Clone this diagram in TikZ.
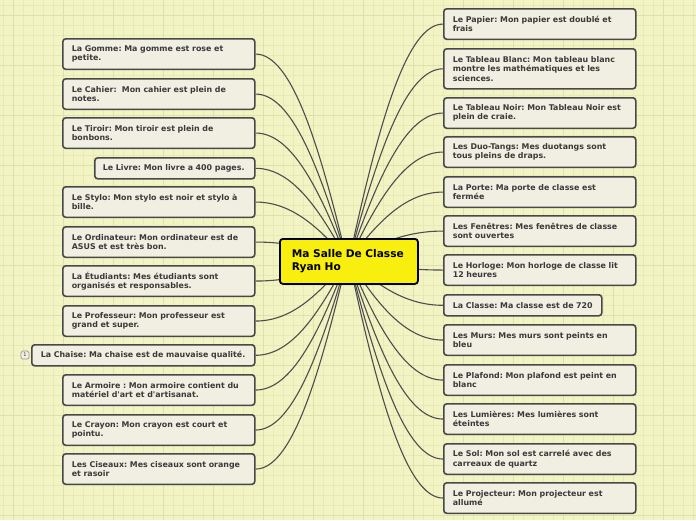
\documentclass[tikz,border=0pt]{standalone}
\usepackage{fontspec}
\newfontfamily\dvs{DejaVu Sans}
\usetikzlibrary{calc}
\definecolor{bgc}{RGB}{242,244,196}
\definecolor{gridminor}{RGB}{231,234,182}
\definecolor{gridmajor}{RGB}{222,225,170}
\definecolor{boxfill}{RGB}{241,239,226}
\definecolor{boxline}{RGB}{72,72,72}
\definecolor{boxtext}{RGB}{58,58,58}
\definecolor{rootfill}{RGB}{248,239,14}
\definecolor{conncol}{RGB}{78,78,78}
\definecolor{iconline}{RGB}{150,150,140}
\pgfdeclarelayer{bg}\pgfdeclarelayer{lines}\pgfsetlayers{bg,lines,main}
\newcommand\linkto[2]{%
  \draw[conn] let \p1=(#1), \p2=(#2) in (\p1) .. controls ({\x1+0.3*(\x2-\x1)},{\y1+0.55*(\y2-\y1)}) and ({\x2-0.4*(\x2-\x1)},\y2) .. (\p2);}
\frenchspacing
\begin{document}
\begin{tikzpicture}[x=1pt,y=-1pt,
  box/.style={draw=boxline, fill=boxfill, line width=1.6pt, rounded corners=3pt,
    font=\dvs\bfseries\fontsize{7.9}{9.4}\selectfont\frenchspacing, text=boxtext, align=left,
    inner xsep=9pt, inner ysep=0pt, anchor=north west, text width=174pt, minimum height=30.5pt},
  one/.style={minimum height=21pt},
  three/.style={minimum height=40pt},
  rootbox/.style={draw=black, fill=rootfill, line width=1.8pt, rounded corners=3pt,
    font=\dvs\bfseries\fontsize{10.6}{13}\selectfont, text=black, align=left,
    inner xsep=12pt, inner ysep=0pt, anchor=north west, text width=114pt, minimum height=45pt},
  conn/.style={draw=conncol, line width=1.1pt},
  gmin/.style={draw=gridminor, line width=0.6pt},
  gmaj/.style={draw=gridmajor, line width=0.8pt},
  iconbox/.style={draw=iconline, fill=boxfill, line width=0.7pt, rounded corners=1.5pt,
    minimum size=8pt, inner sep=0pt, font=\dvs\fontsize{5}{5}\selectfont, text=boxtext}
]
\useasboundingbox (0,0) rectangle (696,520);
\begin{pgfonlayer}{bg}
  \fill[bgc] (0,0) rectangle (696,520);
  \foreach \x in {3,13,...,693} \draw[gmin] (\x,0) -- (\x,520);
  \foreach \y in {5,15,...,515} \draw[gmin] (0,\y) -- (696,\y);
  \foreach \x in {13,63,...,663} \draw[gmaj] (\x,0) -- (\x,520);
  \foreach \y in {15,65,...,515} \draw[gmaj] (0,\y) -- (696,\y);
\end{pgfonlayer}

% root
\node[rootbox] (root) at (279,238) {\mbox{Ma Salle De Classe}\\Ryan Ho};
\coordinate (rl) at (347,260);
\coordinate (rr) at (349,260);

% left
\node[box] (gomme) at (62,38) {La Gomme: Ma gomme est rose et\\petite.};
\node[box] (cahier) at (62,78) {Le Cahier: \ Mon cahier est plein de\\notes.};
\node[box] (tiroir) at (62,117) {Le Tiroir: Mon tiroir est plein de\\bonbons.};
\node[box, one, inner xsep=8pt, text width=144pt] (livre) at (94,157) {\mbox{Le Livre: Mon livre a 400 pages.}};
\node[box] (stylo) at (62,186) {Le Stylo: Mon stylo est noir et stylo à\\bille.};
\node[box] (ordi) at (62,226) {Le Ordinateur: Mon ordinateur est de\\ASUS et est très bon.};
\node[box] (etud) at (62,265) {La Étudiants: Mes étudiants sont\\organisés et responsables.};
\node[box] (prof) at (62,305) {Le Professeur: Mon professeur est\\grand et super.};
\node[box, one, text width=205pt] (chaise) at (31,344) {\mbox{La Chaise: Ma chaise est de mauvaise qualité.}};
\node[iconbox] (icon) at (25,355) {1};
\node[box] (armoire) at (62,374) {Le Armoire : Mon armoire contient du\\matériel d'art et d'artisanat.};
\node[box] (crayon) at (62,414) {Le Crayon: Mon crayon est court et\\pointu.};
\node[box] (ciseaux) at (62,453) {Les Ciseaux: Mes ciseaux sont orange\\et rasoir};

% right
\node[box] (papier) at (443,8) {Le Papier: Mon papier est doublé et\\frais};
\node[box, three] (tblanc) at (443,48) {Le Tableau Blanc: Mon tableau blanc\\montre les mathématiques et les\\sciences.};
\node[box] (tnoir) at (443,97) {Le Tableau Noir: Mon Tableau Noir est\\plein de craie.};
\node[box] (duo) at (443,136) {Les Duo-Tangs: Mes duotangs sont\\tous pleins de draps.};
\node[box] (porte) at (443,176) {La Porte: Ma porte de classe est\\fermée};
\node[box] (fen) at (443,215) {Les Fenêtres: Mes fenêtres de classe\\sont ouvertes};
\node[box] (horl) at (443,254) {Le Horloge: Mon horloge de classe lit\\12 heures};
\node[box, one, text width=140pt] (classe) at (443,294) {\mbox{La Classe: Ma classe est de 720}};
\node[box] (murs) at (443,324) {Les Murs: Mes murs sont peints en\\bleu};
\node[box] (plaf) at (443,364) {Le Plafond: Mon plafond est peint en\\blanc};
\node[box] (lum) at (443,403) {Les Lumières: Mes lumières sont\\éteintes};
\node[box] (sol) at (443,443) {Le Sol: Mon sol est carrelé avec des\\carreaux de quartz};
\node[box] (proj) at (443,482) {Le Projecteur: Mon projecteur est\\allumé};

\begin{pgfonlayer}{lines}
  \linkto{rl}{gomme.east}
  \linkto{rl}{cahier.east}
  \linkto{rl}{tiroir.east}
  \linkto{rl}{livre.east}
  \linkto{rl}{stylo.east}
  \linkto{rl}{ordi.east}
  \linkto{rl}{etud.east}
  \linkto{rl}{prof.east}
  \linkto{rl}{chaise.east}
  \linkto{rl}{armoire.east}
  \linkto{rl}{crayon.east}
  \linkto{rl}{ciseaux.east}
  \linkto{rr}{papier.west}
  \linkto{rr}{tblanc.west}
  \linkto{rr}{tnoir.west}
  \linkto{rr}{duo.west}
  \linkto{rr}{porte.west}
  \linkto{rr}{fen.west}
  \linkto{rr}{horl.west}
  \linkto{rr}{classe.west}
  \linkto{rr}{murs.west}
  \linkto{rr}{plaf.west}
  \linkto{rr}{lum.west}
  \linkto{rr}{sol.west}
  \linkto{rr}{proj.west}
\end{pgfonlayer}
\end{tikzpicture}
\end{document}
